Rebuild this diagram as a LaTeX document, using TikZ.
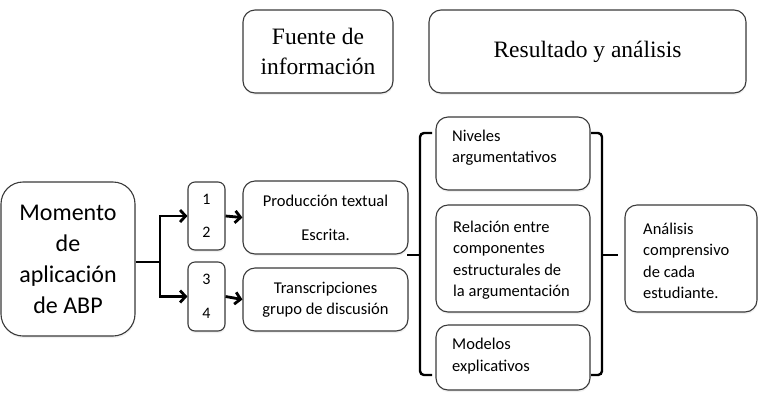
\documentclass[tikz,border=0pt]{standalone}
\usepackage{fontspec}
\setmainfont{Carlito}
\newfontfamily\tms{Liberation Serif}
\usetikzlibrary{arrows.meta,shadows}
\definecolor{boxline}{HTML}{3A3A3A}
\begin{document}
\begin{tikzpicture}[x=1pt,y=-1pt,
  box/.style={draw=boxline, fill=white, line width=1.1pt, rounded corners=12pt, inner sep=0pt,
    drop shadow={opacity=0.12, shadow xshift=0.5pt, shadow yshift=-2pt}},
  arr/.style={line width=2.8pt, -{Straight Barb[length=5.5pt,width=12pt]}},
  brace/.style={line width=2.4pt, rounded corners=4pt},
  small/.style={font=\fontsize{16.5}{21.5}\selectfont},
  lbl/.style={inner sep=0pt, align=left, anchor=west}]
\useasboundingbox (0,0) rectangle (759,408);
% header boxes
\node[box, minimum width=150pt, minimum height=83pt, align=center,
  font=\tms\fontsize{23.5}{30}\selectfont] (fuente) at (318,51.5) {Fuente de\\información};
\node[box, minimum width=317pt, minimum height=83pt,
  font=\tms\fontsize{23.5}{30}\selectfont] (res) at (587.5,51.5) {Resultado y análisis};
% left
\node[box, rounded corners=22pt, minimum width=134pt, minimum height=154pt, align=center,
  font=\fontsize{24}{31}\selectfont] (mom) at (68,259) {Momento\\de\\aplicación\\de ABP};
\node[box, rounded corners=7pt, minimum width=37pt, minimum height=68pt, align=center,
  font=\fontsize{16}{33}\selectfont] (b12) at (206.5,216) {1\\2};
\node[box, rounded corners=7pt, minimum width=37pt, minimum height=69pt, align=center,
  font=\fontsize{16}{34}\selectfont] (b34) at (206.5,296.5) {3\\4};
\node[box, minimum width=165pt, minimum height=73pt, align=center,
  font=\fontsize{16.5}{34}\selectfont] (prod) at (325.5,217.5) {Producción textual\\Escrita.};
\node[box, minimum width=165pt, minimum height=63pt, align=center, small] (trans) at (325.5,299.5) {Transcripciones\\grupo de discusión};
% middle column
\node[box, minimum width=154pt, minimum height=73pt] (niv) at (513,153.5) {};
\node[box, minimum width=154pt, minimum height=107pt] (rel) at (513,258.5) {};
\node[box, minimum width=154pt, minimum height=65pt] (mod) at (513,357.5) {};
\node[lbl, small] (nivt) at (452,147.5) {Niveles\\argumentativos};
\node[lbl, small] (relt) at (453,260) {Relación entre\\componentes\\estructurales de\\la argumentación};
\node[lbl, small] (modt) at (452,356) {Modelos\\explicativos};
% right
\node[box, minimum width=132pt, minimum height=107pt] (ana) at (691,258.5) {};
\node[lbl, small] (anat) at (643,261) {Análisis\\comprensivo\\de cada\\estudiante.};
% connectors
\draw[line width=2.8pt] (mom.east |- 0,262) -- (160,262) coordinate (j);
\draw[arr] (j) |- (b12.west);
\draw[arr] (j) |- (b34.west);
\draw[arr] (b12.east) -- (prod.west);
\draw[arr] (b34.east) -- (trans.west);
% braces
\draw[brace] (432,133) -- (420,133) -- (420,375) -- (432,375);
\draw[brace] (407,255) -- (420,255);
\draw[brace] (591,133) -- (602,133) -- (602,375) -- (591,375);
\draw[brace] (602,255) -- (618,255);
\end{tikzpicture}
\end{document}
